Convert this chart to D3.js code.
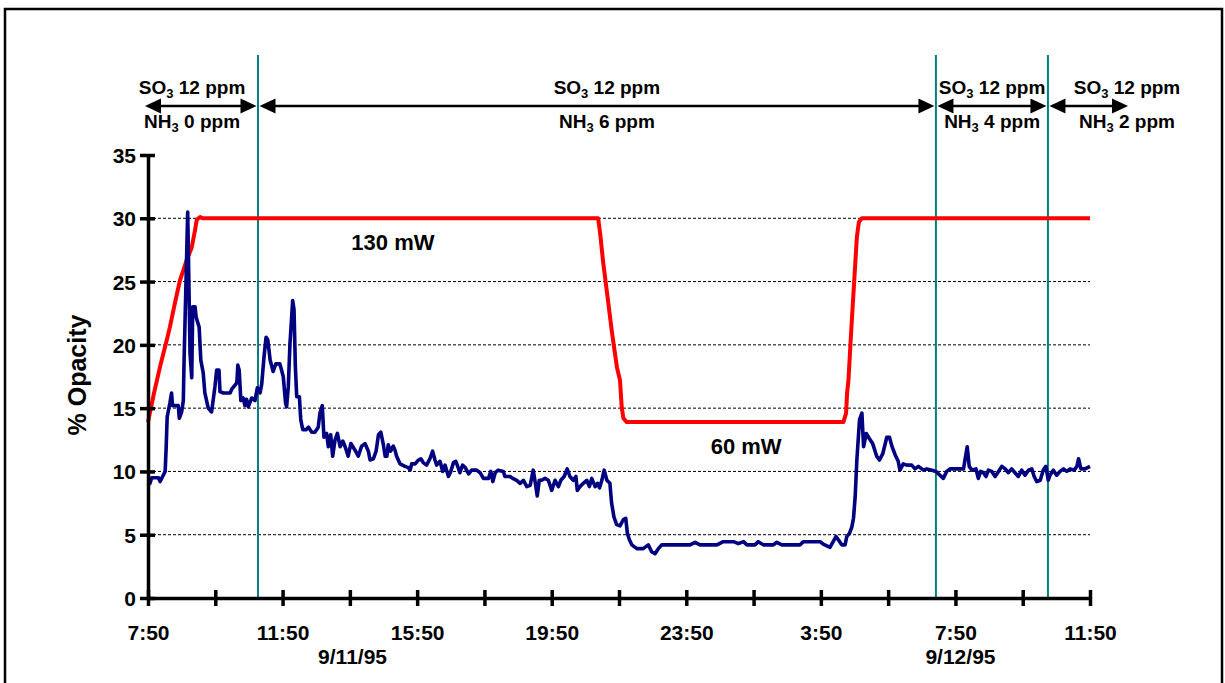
<!DOCTYPE html>
<html><head><meta charset="utf-8">
<script src="https://cdn.jsdelivr.net/npm/d3@7"></script>
<style>
body{margin:0;background:#fff}
svg{display:block}
text{font-family:"Liberation Sans",Arial,sans-serif;font-weight:bold;fill:#000}
</style>
</head><body>
<svg id="chart" width="1225" height="683"></svg>
<script>
// ---- axis definitions ----
const yTicks = [0, 5, 10, 15, 20, 25, 30, 35];
const gridValues = [5, 10, 15, 20, 25, 30];
const xTickHours = [0, 2, 4, 6, 8, 10, 12, 14, 16, 18, 20, 22, 24, 26, 28];
const xLabelHours = [0, 4, 8, 12, 16, 20, 24, 28];
const xLabels = ["7:50", "11:50", "15:50", "19:50", "23:50", "3:50", "7:50", "11:50"];
const dateLabels = ["9/11/95", "9/12/95"];
const dateHours = [6.08, 24.15];
const yTitle = "% Opacity";

// ---- test condition changes (hours after 7:50 on 9/11/95) ----
const changeHours = [3.27, 23.42, 26.75];
const segmentBounds = [-0.09, 3.27, 23.42, 26.75, 29.13];
const segmentLabelHours = [1.31, 13.64, 25.09, 29.10];
const so3Ppm = ["12", "12", "12", "12"];
const nh3Ppm = ["0", "6", "4", "2"];

// ---- laser power trace (drawn on opacity axis) ----
const powerHours = [0, 0.18, 0.36, 0.56, 0.65, 0.80, 0.95, 1.15, 1.30, 1.40, 1.45, 1.55, 1.62,
  13.38, 13.44, 13.53, 13.65, 13.79, 13.94, 14.03, 14.08, 14.13, 14.23,
  20.67, 20.75, 20.78, 20.82, 20.90, 20.99, 21.07, 21.13, 21.22, 28];
const powerValues = [13.9, 16.2, 18.3, 20.4, 21.4, 23.3, 25.1, 26.7, 27.7, 29.1, 29.9, 30.1, 30.0,
  30.0, 28.8, 26.5, 24.0, 21.0, 18.2, 17.2, 15.1, 14.2, 13.9,
  13.9, 14.6, 16.2, 17.2, 21.0, 25.0, 28.5, 29.7, 30.0, 30.0];
const powerLabels = ["130 mW", "60 mW"];
const powerLabelHours = [7.28, 17.78];
const powerLabelValues = [28.1, 12.0];

// ---- opacity trace ----
const opacityHours = [0, 0.06, 0.11, 0.31, 0.36, 0.51, 0.54, 0.57, 0.65, 0.70, 0.73, 0.90, 0.93, 1.00, 1.05, 1.07, 1.18, 1.25, 1.30, 1.33,
  1.40, 1.43, 1.52, 1.57, 1.64, 1.69, 1.79, 1.89, 1.99, 2.04, 2.11, 2.14, 2.24, 2.44, 2.49, 2.64, 2.67, 2.71, 2.76, 2.83,
  2.88, 2.93, 2.98, 3.08, 3.18, 3.25, 3.33, 3.38, 3.45, 3.51, 3.56, 3.63, 3.72, 3.80, 3.92, 4.02, 4.09, 4.12, 4.17, 4.22,
  4.27, 4.30, 4.34, 4.38, 4.42, 4.50, 4.54, 4.60, 4.70, 4.77, 4.87, 4.96, 5.06, 5.11, 5.18, 5.23, 5.31, 5.36, 5.43, 5.49,
  5.56, 5.63, 5.71, 5.79, 5.86, 5.95, 6.03, 6.15, 6.25, 6.35, 6.45, 6.55, 6.60, 6.70, 6.78, 6.85, 6.92, 6.99, 7.05, 7.10,
  7.14, 7.21, 7.29, 7.34, 7.39, 7.49, 7.64, 7.74, 7.79, 7.84, 7.94, 8.04, 8.11, 8.18, 8.28, 8.38, 8.46, 8.53, 8.58, 8.68,
  8.76, 8.83, 8.93, 9.00, 9.08, 9.15, 9.22, 9.27, 9.35, 9.43, 9.53, 9.62, 9.77, 9.87, 9.97, 10.12, 10.19, 10.25, 10.32, 10.41,
  10.56, 10.61, 10.76, 10.84, 10.96, 11.06, 11.16, 11.26, 11.36, 11.45, 11.50, 11.57, 11.63, 11.70, 11.80, 11.90, 12.00, 12.10, 12.20, 12.27,
  12.37, 12.46, 12.54, 12.64, 12.72, 12.76, 12.84, 12.94, 13.04, 13.12, 13.19, 13.29, 13.36, 13.42, 13.49, 13.56, 13.64, 13.73, 13.78, 13.85,
  13.93, 14.03, 14.13, 14.20, 14.25, 14.31, 14.38, 14.53, 14.72, 14.87, 14.97, 15.07, 15.17, 15.27, 15.62, 16.11, 16.26, 16.41, 16.91, 17.10,
  17.40, 17.55, 17.70, 17.80, 18.04, 18.14, 18.29, 18.59, 18.69, 18.84, 19.38, 19.48, 19.98, 20.07, 20.27, 20.45, 20.52, 20.62, 20.72, 20.77,
  20.85, 20.92, 20.97, 21.02, 21.07, 21.15, 21.22, 21.27, 21.35, 21.44, 21.54, 21.66, 21.74, 21.84, 21.96, 22.04, 22.11, 22.21, 22.30, 22.35,
  22.45, 22.55, 22.70, 22.80, 22.90, 23.05, 23.15, 23.30, 23.42, 23.54, 23.64, 23.74, 23.84, 24.24, 24.29, 24.35, 24.41, 24.49, 24.61, 24.68,
  24.75, 24.83, 24.91, 24.98, 25.08, 25.18, 25.28, 25.38, 25.48, 25.57, 25.67, 25.77, 25.87, 25.97, 26.07, 26.17, 26.27, 26.34, 26.42, 26.52,
  26.61, 26.69, 26.76, 26.81, 26.91, 27.01, 27.11, 27.21, 27.31, 27.41, 27.53, 27.61, 27.66, 27.73, 27.85, 28.00];
const opacityValues = [8.9, 9.06, 9.5, 9.5, 9.2, 10.0, 11.9, 14.3, 15.4, 16.2, 15.2, 15.2, 14.2, 14.7, 15.6, 18.5, 30.5, 19.3, 17.4, 23.0,
  23.0, 22.2, 21.4, 18.8, 17.8, 16.2, 15.0, 14.7, 16.7, 18.0, 18.0, 16.3, 16.2, 16.2, 16.5, 17.0, 18.4, 18.0, 15.6, 15.8,
  15.2, 15.7, 15.1, 15.8, 15.6, 16.6, 16.2, 16.9, 19.1, 20.6, 20.4, 18.8, 17.9, 18.5, 18.5, 17.5, 15.4, 15.1, 16.7, 20.1,
  22.2, 23.5, 22.8, 18.3, 15.9, 15.9, 14.1, 13.3, 13.3, 13.5, 13.1, 13.1, 13.5, 14.6, 15.2, 12.7, 13.0, 11.95, 12.9, 11.2,
  12.5, 13.0, 11.95, 12.4, 11.95, 11.2, 12.2, 11.7, 11.2, 12.0, 12.2, 11.6, 10.9, 11.0, 11.6, 12.9, 13.1, 12.2, 11.2, 11.2,
  12.1, 11.6, 12.0, 11.7, 11.2, 10.6, 10.4, 10.3, 10.1, 10.6, 10.6, 10.9, 11.0, 10.7, 10.5, 11.0, 11.6, 10.9, 10.5, 10.8,
  10.0, 10.5, 9.6, 10.0, 10.7, 10.8, 10.3, 9.9, 10.5, 10.3, 9.8, 10.1, 10.1, 9.9, 9.45, 9.45, 10.0, 9.2, 9.9, 10.1,
  10.0, 9.6, 9.6, 9.45, 9.3, 9.06, 9.3, 8.8, 8.9, 10.1, 9.3, 8.06, 9.3, 9.3, 9.45, 9.3, 8.5, 9.3, 8.8, 9.3,
  9.6, 10.2, 9.6, 9.3, 9.6, 8.5, 8.8, 9.06, 9.3, 8.8, 9.45, 8.8, 9.06, 8.7, 9.3, 10.1, 9.3, 9.06, 7.5, 6.4,
  5.8, 5.7, 6.2, 6.3, 5.1, 4.6, 4.2, 3.9, 3.9, 4.2, 3.65, 3.5, 3.9, 4.2, 4.2, 4.2, 4.4, 4.2, 4.2, 4.45,
  4.45, 4.3, 4.45, 4.2, 4.2, 4.45, 4.2, 4.2, 4.4, 4.2, 4.2, 4.45, 4.45, 4.25, 4.0, 4.85, 4.6, 4.2, 4.2, 4.85,
  5.1, 5.6, 6.3, 8.0, 10.9, 14.1, 14.6, 11.95, 13.0, 12.6, 12.2, 11.2, 10.9, 11.4, 12.7, 12.7, 12.0, 11.3, 10.8, 10.1,
  10.6, 10.5, 10.5, 10.2, 10.4, 10.1, 10.2, 10.1, 10.0, 9.7, 9.45, 10.0, 10.2, 10.2, 11.0, 11.95, 10.4, 10.1, 10.2, 9.45,
  10.0, 9.9, 9.6, 10.1, 10.0, 9.6, 10.0, 10.4, 10.2, 9.9, 10.2, 9.9, 9.6, 10.1, 9.7, 10.1, 10.2, 9.6, 9.2, 9.3,
  10.1, 10.4, 9.3, 9.7, 10.1, 9.7, 10.0, 10.2, 10.0, 10.2, 10.1, 10.4, 11.0, 10.2, 10.2, 10.4];

// ---- drawing ----
const svg = d3.select("#chart");
const x = d3.scaleLinear().domain([0, 28]).range([148, 1090]);
const y = d3.scaleLinear().domain([0, 35]).range([598, 155]);

// outer frame
svg.append("rect").attr("x", 5).attr("y", 9).attr("width", 1217).attr("height", 690)
  .attr("fill", "none").attr("stroke", "#000").attr("stroke-width", 2.5);

// gridlines
svg.append("g").selectAll("line").data(gridValues).join("line")
  .attr("x1", x(0)).attr("x2", x(28))
  .attr("y1", d => y(d)).attr("y2", d => y(d))
  .attr("stroke", "#000").attr("stroke-width", 1).attr("stroke-dasharray", "3,2");

// teal vertical lines
svg.append("g").selectAll("line").data(changeHours).join("line")
  .attr("x1", d => x(d)).attr("x2", d => x(d))
  .attr("y1", 55).attr("y2", y(0))
  .attr("stroke", "#008080").attr("stroke-width", 2);

// power trace (red)
const powerPts = powerHours.map((h, i) => [h, powerValues[i]]);
svg.append("path").datum(powerPts)
  .attr("fill", "none").attr("stroke", "#ff0000").attr("stroke-width", 4)
  .attr("stroke-linejoin", "round")
  .attr("d", d3.line().x(d => x(d[0])).y(d => y(d[1])));

// opacity trace (navy)
const opPts = opacityHours.map((h, i) => [h, opacityValues[i]]);
svg.append("path").datum(opPts)
  .attr("fill", "none").attr("stroke", "#000080").attr("stroke-width", 3.6)
  .attr("stroke-linejoin", "round")
  .attr("d", d3.line().x(d => x(d[0])).y(d => y(d[1])));

// y axis
const yAxis = svg.append("g").attr("transform", `translate(${x(0)},0)`)
  .call(d3.axisLeft(y).tickValues(yTicks).tickSize(8).tickSizeOuter(0).tickPadding(4));
yAxis.select(".domain").attr("stroke-width", 3.5);
yAxis.selectAll(".tick line").attr("x1", 7).attr("x2", -8).attr("stroke-width", 3.5);
yAxis.selectAll(".tick text").attr("font-size", 21).attr("dy", "0.36em");

// x axis
const xAxis = svg.append("g").attr("transform", `translate(0,${y(0)})`)
  .call(d3.axisBottom(x).tickValues(xTickHours).tickSize(8).tickSizeOuter(0).tickPadding(19)
    .tickFormat(d => { const i = xLabelHours.indexOf(d); return i >= 0 ? xLabels[i] : ""; }));
xAxis.select(".domain").attr("stroke-width", 3.5);
xAxis.selectAll(".tick line").attr("y1", -8).attr("y2", 8).attr("stroke-width", 3.5);
xAxis.selectAll(".tick text").attr("font-size", 21);
svg.selectAll("g").attr("font-family", null);

// date labels
svg.append("g").selectAll("text").data(dateLabels).join("text")
  .attr("x", (d, i) => x(dateHours[i])).attr("y", 664)
  .attr("text-anchor", "middle").attr("font-size", 21).text(d => d);

// y title
svg.append("text").attr("transform", "translate(86,375) rotate(-90)")
  .attr("text-anchor", "middle").attr("font-size", 25).text(yTitle);

// power labels
svg.append("g").selectAll("text").data(powerLabels).join("text")
  .attr("x", (d, i) => x(powerLabelHours[i]))
  .attr("y", (d, i) => y(powerLabelValues[i]))
  .attr("dy", "0.36em").attr("text-anchor", "middle").attr("font-size", 22).text(d => d);

// condition arrows
const arrowY = 106, gap = 1.5, headL = 16, headH = 7.5;
const arrows = svg.append("g");
for (let i = 0; i < segmentBounds.length - 1; i++) {
  const a = x(segmentBounds[i]) + (i > 0 ? gap : 0);
  const b = x(segmentBounds[i + 1]) - (i < segmentBounds.length - 2 ? gap : 0);
  arrows.append("line").attr("x1", a + 4).attr("x2", b - 4).attr("y1", arrowY).attr("y2", arrowY)
    .attr("stroke", "#000").attr("stroke-width", 2.5);
  arrows.append("path").attr("d", `M${a},${arrowY}L${a + headL},${arrowY - headH}L${a + headL},${arrowY + headH}Z`).attr("fill", "#000");
  arrows.append("path").attr("d", `M${b},${arrowY}L${b - headL},${arrowY - headH}L${b - headL},${arrowY + headH}Z`).attr("fill", "#000");
}
const labels = svg.append("g");
segmentLabelHours.forEach((h, i) => {
  const t1 = labels.append("text").attr("x", x(h)).attr("y", 94).attr("text-anchor", "middle").attr("font-size", 19);
  t1.append("tspan").text("SO");
  t1.append("tspan").attr("font-size", 13).attr("dy", 4).text("3");
  t1.append("tspan").attr("dy", -4).text(" " + so3Ppm[i] + " ppm");
  const t2 = labels.append("text").attr("x", x(h)).attr("y", 128).attr("text-anchor", "middle").attr("font-size", 19);
  t2.append("tspan").text("NH");
  t2.append("tspan").attr("font-size", 13).attr("dy", 4).text("3");
  t2.append("tspan").attr("dy", -4).text(" " + nh3Ppm[i] + " ppm");
});
</script>
</body></html>
